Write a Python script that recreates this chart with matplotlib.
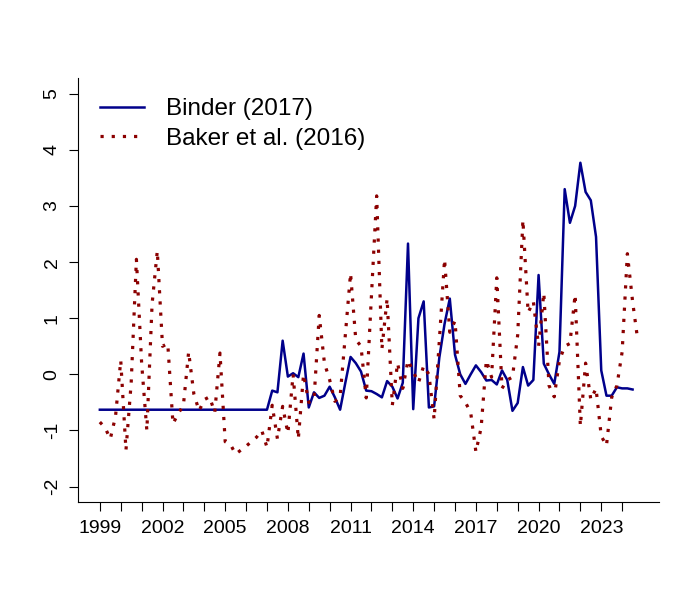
import pandas as pd
import matplotlib.pyplot as plt
import numpy as np

plt.rcParams['font.family'] = ['Liberation Sans', 'DejaVu Sans']
plt.rcParams['axes.unicode_minus'] = False

# quarterly index, 1999Q1 .. 2024Q4
quarters = pd.period_range('1999Q1', '2024Q4', freq='Q')

baker = [
    -0.85, -0.95, -1.15, -0.75,   # 1999
    0.25, -1.35, -0.15, 2.05,     # 2000
    0.20, -1.00, 1.25, 2.20,      # 2001
    0.50, 0.55, -0.88, -0.70,     # 2002
    -0.55, 0.40, -0.35, -0.65,    # 2003
    -0.45, -0.40, -0.68, 0.38,    # 2004
    -1.20, -1.25, -1.42, -1.35,   # 2005
    -1.28, -1.20, -1.12, -1.00,   # 2006
    -1.30, -0.55, -1.15, -0.57,   # 2007
    -1.05, 0.00, -1.15, 0.00,     # 2008
    -0.50, -0.45, 1.05, 0.20,     # 2009
    -0.10, -0.48, -0.40, 0.70,    # 2010
    1.80, 0.62, 0.50, -0.42,      # 2011
    1.40, 3.18, 0.45, 1.35,       # 2012
    -0.55, 0.20, -0.25, 0.25,     # 2013
    0.05, -0.15, 0.15, 0.00,      # 2014
    -0.80, 0.60, 2.05, 0.75,      # 2015
    0.95, -0.38, -0.50, -0.68,    # 2016
    -1.38, -0.95, 0.25, -0.05,    # 2017
    1.72, -0.25, -0.10, -0.05,    # 2018
    0.70, 2.75, 1.10, 1.30,       # 2019
    0.50, 1.45, -0.20, -0.40,     # 2020
    0.25, 0.50, 0.55, 1.42,       # 2021
    -0.92, 0.20, -0.45, -0.25,    # 2022
    -1.10, -1.27, -0.41, -0.20,   # 2023
    0.40, 2.15, 1.30, 0.60,       # 2024
]

# Binder series ends one quarter earlier (2024Q3)
binder = [
    -0.63, -0.63, -0.63, -0.63,   # 1999
    -0.63, -0.63, -0.63, -0.63,   # 2000
    -0.63, -0.63, -0.63, -0.63,   # 2001
    -0.63, -0.63, -0.63, -0.63,   # 2002
    -0.63, -0.63, -0.63, -0.63,   # 2003
    -0.63, -0.63, -0.63, -0.63,   # 2004
    -0.63, -0.63, -0.63, -0.63,   # 2005
    -0.63, -0.63, -0.63, -0.63,   # 2006
    -0.63, -0.29, -0.32, 0.60,    # 2007
    -0.04, 0.02, -0.05, 0.37,     # 2008
    -0.59, -0.32, -0.42, -0.38,   # 2009
    -0.22, -0.41, -0.63, -0.15,   # 2010
    0.31, 0.20, 0.05, -0.29,      # 2011
    -0.30, -0.35, -0.41, -0.12,   # 2012
    -0.22, -0.43, -0.15, 2.33,    # 2013
    -0.62, 1.00, 1.30, -0.59,     # 2014
    -0.57, 0.30, 0.90, 1.35,      # 2015
    0.35, 0.00, -0.17, 0.00,      # 2016
    0.16, 0.04, -0.11, -0.10,     # 2017
    -0.18, 0.07, -0.10, -0.65,    # 2018
    -0.51, 0.13, -0.20, -0.10,    # 2019
    1.77, 0.19, 0.00, -0.17,      # 2020
    0.40, 3.30, 2.70, 3.00,       # 2021
    3.77, 3.25, 3.10, 2.45,       # 2022
    0.07, -0.38, -0.38, -0.23,    # 2023
    -0.25, -0.25, -0.27,          # 2024
]

t = quarters.year + (quarters.quarter - 1) / 4.0
tick_years = list(range(1999, 2025))
tick_labels = [str(y) if (y - 1999) % 3 == 0 else '' for y in tick_years]

fig = plt.figure(figsize=(7, 6), dpi=100)
ax = fig.add_axes([0.1119, 0.1628, 0.8300, 0.7072])

ax.plot(t[:len(binder)], binder, color='#00008B', lw=1.8, label='Binder (2017)')
ax.plot(t, baker, color='#8B0000', lw=2.3, linestyle=(0, (1, 2.5)),
        dash_capstyle='butt', label='Baker et al. (2016)')

pad = 0.04 * (t.max() - t.min())
ax.set_xlim(t.min() - pad, t.max() + pad)
ax.set_ylim(-2.28, 5.28)

ax.set_xticks(tick_years)
ax.set_xticklabels(tick_labels)
ax.set_yticks(range(-2, 6))
ax.tick_params(direction='out', length=6.7, width=0.8, labelsize=14, color='black')
ax.tick_params(axis='x', pad=6)
ax.tick_params(axis='y', pad=6)
for lab in ax.get_yticklabels():
    lab.set_rotation(90)
    lab.set_va('center')

for side in ['top', 'right']:
    ax.spines[side].set_visible(False)
for side in ['left', 'bottom']:
    ax.spines[side].set_linewidth(0.8)

ax.legend(loc='upper left', bbox_to_anchor=(0.0373, 0.952), frameon=False,
          fontsize=17.5, handlelength=1.8, handletextpad=0.9, labelspacing=0.3,
          borderpad=0, borderaxespad=0)

fig.savefig('out.png', dpi=100)
